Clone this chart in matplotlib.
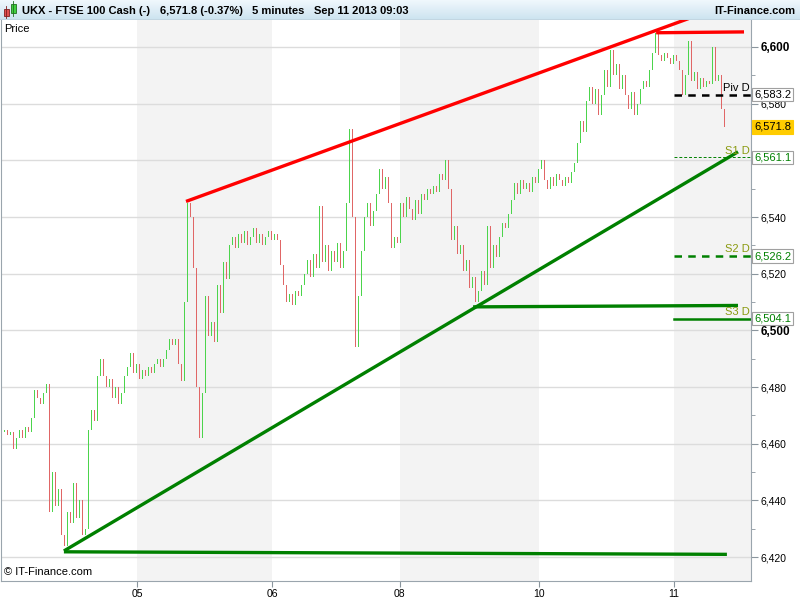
import matplotlib
matplotlib.use("Agg")
import matplotlib.pyplot as plt
import numpy as np
from matplotlib.patches import Rectangle

plt.rcParams['font.family'] = ['Liberation Sans', 'DejaVu Sans']

first_open = 6464
closes = [
    6464, 6465, 6463, 6464, 6458, 6462, 6465, 6462, 6466, 6464,
    6469, 6479, 6476, 6474, 6478, 6481, 6436, 6450, 6438, 6444,
    6428, 6424, 6436, 6432, 6446, 6434, 6440, 6428, 6430, 6465,
    6472, 6468, 6484, 6490, 6484, 6480, 6483, 6476, 6480, 6474,
    6478, 6484, 6487, 6492, 6485, 6488, 6483, 6486, 6484, 6487,
    6485, 6488, 6490, 6487, 6490, 6493, 6497, 6495, 6497, 6488,
    6482, 6510, 6545, 6540, 6522, 6480, 6462, 6478, 6512, 6498,
    6503, 6496, 6516, 6506, 6524, 6518, 6530, 6533, 6529, 6534,
    6531, 6535, 6530, 6533, 6536, 6531, 6534, 6530, 6533, 6535,
    6532, 6534, 6532, 6523, 6516, 6510, 6513, 6509, 6514, 6512,
    6516, 6520, 6525, 6519, 6527, 6522, 6544, 6524, 6530, 6521,
    6528, 6524, 6531, 6522, 6528, 6545, 6571, 6540, 6494, 6512,
    6528, 6540, 6545, 6537, 6542, 6548, 6557, 6550, 6554, 6545,
    6529, 6533, 6531, 6545, 6540, 6547, 6543, 6539, 6546, 6541,
    6548, 6546, 6550, 6548, 6551, 6549, 6555, 6553, 6560, 6550,
    6532, 6537, 6527, 6530, 6521, 6525, 6515, 6519, 6510, 6514,
    6521, 6516, 6537, 6522, 6530, 6526, 6533, 6538, 6536, 6541,
    6546, 6552, 6548, 6553, 6550, 6552, 6549, 6554, 6552, 6557,
    6560, 6553, 6550, 6554, 6551, 6555, 6553, 6551, 6554, 6552,
    6556, 6559, 6566, 6574, 6570, 6581, 6586, 6580, 6585, 6576,
    6583, 6592, 6586, 6599, 6590, 6594, 6585, 6590, 6583, 6578,
    6584, 6576, 6580, 6585, 6588, 6586, 6592, 6598, 6605, 6597,
    6595, 6598, 6596, 6594, 6597, 6595, 6592, 6583, 6590, 6602,
    6588, 6591, 6585, 6589, 6586, 6588, 6587, 6600, 6588, 6590,
    6578, 6571.8,
]

day_labels = ['05', '06', '08', '10', '11']
day_starts = [45.2, 90.2, 132.8, 179.2, 224.2]

# trend lines drawn on the chart: (bar index, price)
red_lines = [[(61.5, 6545.5), (229, 6610)], [(218.2, 6605), (247.5, 6605.3)]]
green_lines = [[(20.8, 6422.2), (245.5, 6563.0)],
               [(20.8, 6421.9), (241.8, 6421.0)],
               [(157.2, 6508.3), (245.5, 6508.8)]]

pivot_names = ['Piv D', 'S1 D', 'S2 D', 'S3 D']
pivot_values = [6583.2, 6561.1, 6526.2, 6504.1]
last_price = 6571.8

# ---- figure ----
fig = plt.figure(figsize=(8, 6), dpi=100)
fig.patch.set_facecolor('white')

XMIN, XMAX = -0.17, 249.83
YMIN, YMAX = 6411.6, 6609.5

ax = fig.add_axes([1 / 800, 19 / 600, 750 / 800, 561 / 600])
ax.set_xlim(XMIN, XMAX)
ax.set_ylim(YMIN, YMAX)
ax.set_facecolor('white')

# alternating day bands
edges = day_starts + [XMAX]
for k in range(0, len(edges) - 1, 2):
    ax.axvspan(edges[k], edges[k + 1], color='#f3f3f3', zorder=0, lw=0)

# grid
major = np.arange(6420, 6601, 20)
for v in major:
    ax.axhline(v, color='#dcdcdc', lw=1, zorder=0.5)

# candles
opens = [first_open] + closes[:-1]
idx = np.arange(len(closes))
for i, o, c in zip(idx, opens, closes):
    col = '#4cd44c' if c >= o else '#e06666'
    lo, hi = min(o, c), max(o, c)
    if hi - lo < 0.6:
        hi = lo + 0.6
    ax.add_patch(Rectangle((i - 0.26, lo), 0.52, hi - lo, facecolor=col,
                           edgecolor='none', zorder=2))

# trend lines
for (x0, y0), (x1, y1) in red_lines:
    ax.plot([x0, x1], [y0, y1], color='#ff0000', lw=2.4, zorder=4,
            solid_capstyle='butt')
for (x0, y0), (x1, y1) in green_lines:
    ax.plot([x0, x1], [y0, y1], color='#008000', lw=2.4, zorder=4,
            solid_capstyle='butt')

# pivot levels
piv_start = day_starts[-1]
styles = [dict(color='black', lw=1.8, ls=(0, (3, 2.5))),
          dict(color='#008000', lw=0.7, ls=(0, (3, 2))),
          dict(color='#008000', lw=1.8, ls=(0, (3, 2.5))),
          dict(color='#008000', lw=1.8, ls='-')]
for name, v, st in zip(pivot_names, pivot_values, styles):
    ax.plot([piv_start, XMAX], [v, v], zorder=4, **st)
    tcol = 'black' if name == 'Piv D' else '#8a9a10'
    ax.text(XMAX - 0.3, v + 0.6, name, ha='right', va='bottom', fontsize=8,
            color=tcol, zorder=5)

# right axis (6,560 sits under the S1 box, as on the original)
ax.yaxis.tick_right()
ax.set_yticks(major)
ax.set_yticks(np.arange(6420, 6601, 10), minor=True)
ax.set_yticklabels(['' if v == 6560 else f"{v:,.0f}" for v in major])
for lab, v in zip(ax.get_yticklabels(), major):
    if v % 100 == 0:
        lab.set_fontweight('bold')
        lab.set_fontsize(8.5)
    else:
        lab.set_fontsize(7.5)
ax.tick_params(axis='y', which='major', length=5, color='#8a959d', pad=2)
ax.tick_params(axis='y', which='minor', length=3, color='#8a959d')

ax.set_xticks(day_starts)
ax.set_xticklabels(day_labels, fontsize=7.5)
ax.tick_params(axis='x', length=4, color='#8a959d', pad=2)

for s in ax.spines.values():
    s.set_color('#9aa5ad')
ax.spines['top'].set_visible(False)

# value boxes on the price scale
trans = ax.get_yaxis_transform()
for v in pivot_values:
    tc = 'black' if v == pivot_values[0] else '#008000'
    ax.text(1.004, v, f"{v:,.1f}", transform=trans, ha='left', va='center',
            fontsize=8, color=tc, zorder=6, clip_on=False,
            bbox=dict(boxstyle='square,pad=0.15', fc='white', ec='#a0a0a0', lw=0.8))
ax.text(1.004, last_price, f"{last_price:,.1f}", transform=trans, ha='left',
        va='center', fontsize=8, color='black', zorder=6, clip_on=False,
        bbox=dict(boxstyle='square,pad=0.15', fc='#ffcc00', ec='#ffcc00', lw=0.8))

ax.text(0.004, 0.993, 'Price', transform=ax.transAxes, fontsize=8, va='top')
ax.text(0.004, 0.008, '\u00a9 IT-Finance.com', transform=ax.transAxes,
        fontsize=8, va='bottom')

# title bar
tb = fig.add_axes([0, 580 / 600, 1, 20 / 600])
grad = np.linspace(0, 1, 20).reshape(-1, 1)
top_c = np.array([0.94, 0.97, 0.99])
bot_c = np.array([0.80, 0.89, 0.94])
img = top_c[None, None, :] * (1 - grad[:, :, None]) + bot_c[None, None, :] * grad[:, :, None]
tb.imshow(img, aspect='auto', extent=[0, 800, 20, 0])
tb.set_xlim(0, 800)
tb.set_ylim(20, 0)
tb.axis('off')
tb.axhline(19.5, color='#9aa5ad', lw=1)
tb.add_patch(Rectangle((3.5, 9), 5, 7, fc='#e05050', ec='#802020', lw=0.6))
tb.plot([6, 6], [6, 18], color='#802020', lw=0.6)
tb.add_patch(Rectangle((10.5, 4), 5, 9, fc='#40d040', ec='#207020', lw=0.6))
tb.plot([13, 13], [1, 16], color='#207020', lw=0.6)
for x, t in [(22, 'UKX - FTSE 100 Cash (-)'), (160, '6,571.8 (-0.37%)'),
             (252, '5 minutes'), (314, 'Sep 11 2013 09:03')]:
    tb.text(x, 10.5, t, fontsize=8, fontweight='bold', va='center')
tb.text(795, 10.5, 'IT-Finance.com', fontsize=8, fontweight='bold',
        va='center', ha='right')

fig.savefig('out.png', dpi=100)
